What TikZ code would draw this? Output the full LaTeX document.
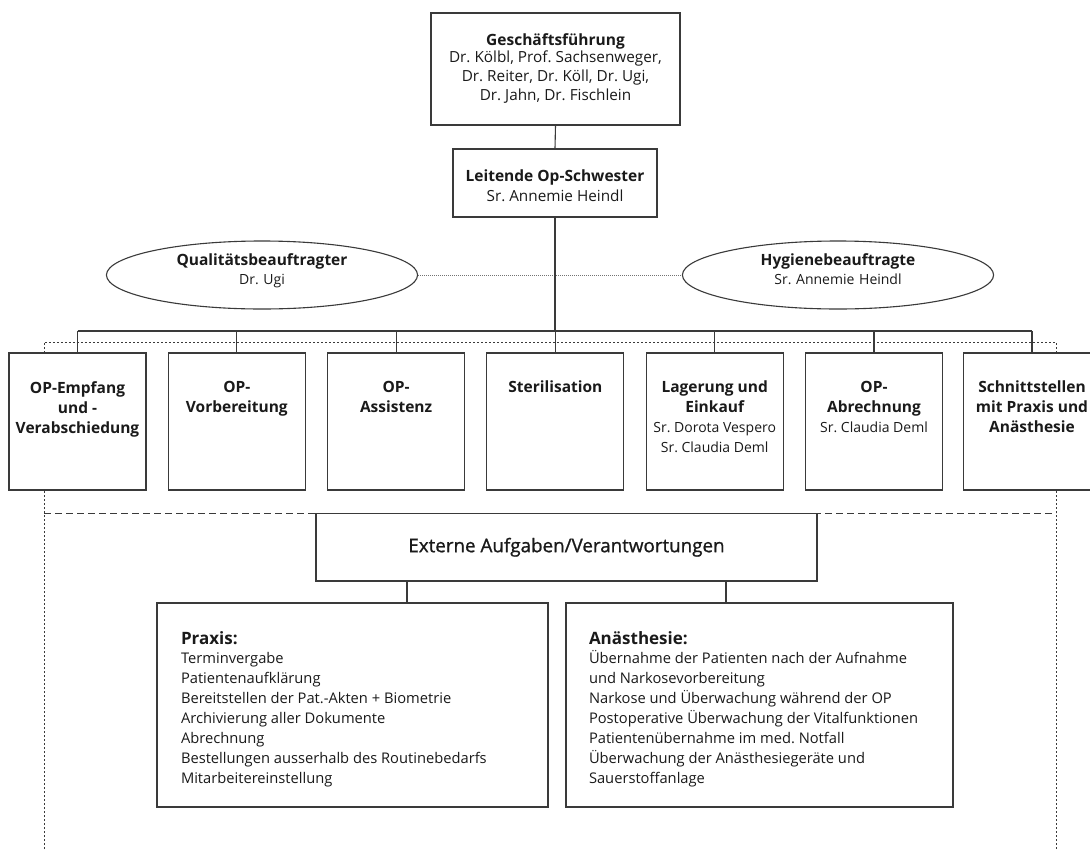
\documentclass[tikz,border=0pt]{standalone}
\usepackage{fontspec}
\setmainfont{Open Sans}
\newfontface\fmed{Open Sans}[FakeBold=1.0]
\frenchspacing
\usetikzlibrary{shapes.geometric}
\definecolor{lncol}{HTML}{3A3A3A}
\definecolor{txtcol}{HTML}{1A1A1A}
\newcommand\fT{\fontsize{15.5}{20.3}\selectfont\bfseries}
\newcommand\fN{\fontsize{14}{19}\selectfont\mdseries}
\newcommand\fG{\fontsize{15.3}{19}\selectfont\mdseries}
\newcommand\fE{\fmed\fontsize{18.8}{20}\selectfont}
\newcommand\fP{\fontsize{17}{20}\selectfont\bfseries}
\newcommand\fB{\fontsize{14.7}{20}\selectfont}
\tikzset{
  ln/.style={draw=lncol, line width=1.1pt},
  box/.style={ln, fill=white, rectangle, inner sep=0pt, text=txtcol},
  ell/.style={ln, fill=white, ellipse, inner sep=0pt, text width=220pt, align=center, minimum height=68pt, text=txtcol, font=\fontsize{14}{19}\selectfont},
  framedot/.style={draw=lncol, line width=1pt, dash pattern=on 2pt off 2pt},
  framedash/.style={draw=lncol, line width=1pt, dash pattern=on 7pt off 4pt},
  linkdot/.style={draw=black!55, line width=1pt, dash pattern=on 1pt off 1pt}
}
\begin{document}
\begin{tikzpicture}[x=1pt,y=-1pt]
\useasboundingbox (0,0) rectangle (1090,849);
\fill[white] (0,0) rectangle (1090,849);
% frame
\coordinate (fTL) at (44,342);
\coordinate (fTR) at (1056,342);
\coordinate (fBL) at (44,849);
\coordinate (fBR) at (1056,849);
\coordinate (dL) at (44,513.5);
\coordinate (dR) at (1056,513.5);
\draw[framedot] (fBL) -- (fTL) -- (fTR) -- (fBR);
\draw[framedash] (dL) -- (dR);
% top
\node[box] (gf) at (555.5,69) {\parbox[c][112pt][t]{249pt}{\centering\fG\rule{0pt}{32.5pt}{\fT Geschäftsführung}\\[-2.5pt]Dr. Kölbl, Prof. Sachsenweger,\\Dr. Reiter, Dr. Köll, Dr. Ugi,\\Dr. Jahn, Dr. Fischlein\par}};
\node[box] (lo) at (555,183) {\parbox[c][68pt][t]{204pt}{\centering\fontsize{15.3}{20}\selectfont\rule{0pt}{32.7pt}{\fT Leitende Op-Schwester}\\Sr. Annemie Heindl\par}};
\draw[ln] (gf.south) -- (lo.north);
% ellipses
\node[ell, minimum width=306pt] (qb) at (262,275) {{\fT Qualitätsbeauftragter}\\Dr. Ugi\rule[-12pt]{0pt}{1pt}};
\node[ell, minimum width=300pt] (hb) at (838,275) {{\fT Hygienebeauftragte}\\Sr. Annemie Heindl\rule[-12pt]{0pt}{1pt}};
\draw[linkdot] (qb.east) -- (hb.west);
% row boxes
\node[box] (b1) at (77.5,421.5) {\parbox[c][137pt][t]{137pt}{\centering\fT\rule{0pt}{40pt}OP-Empfang\\und -\\Verabschiedung\par}};
\node[box] (b2) at (236.8,421.5) {\parbox[c][137pt][t]{137pt}{\centering\fT\rule{0pt}{39pt}OP-\\Vorbereitung\par}};
\node[box] (b3) at (396.1,421.5) {\parbox[c][137pt][t]{137pt}{\centering\fT\rule{0pt}{39pt}OP-\\Assistenz\par}};
\node[box] (b4) at (555.4,421.5) {\parbox[c][137pt][t]{137pt}{\centering\fT\rule{0pt}{39pt}Sterilisation\par}};
\node[box] (b5) at (714.7,421.5) {\parbox[c][137pt][t]{137pt}{\centering\fT\rule{0pt}{39pt}Lagerung und\\Einkauf\\{\fN Sr. Dorota Vespero}\\{\fN Sr. Claudia Deml}\par}};
\node[box] (b6) at (874,421.5) {\parbox[c][137pt][t]{137pt}{\centering\fT\rule{0pt}{39pt}OP-\\Abrechnung\\{\fN Sr. Claudia Deml}\par}};
\node[box] (b7) at (1032,421.5) {\parbox[c][137pt][t]{137pt}{\centering\fT\rule{0pt}{39pt}Schnittstellen\\mit Praxis und\\Anästhesie\par}};
\coordinate (bar) at (555,331);
\draw[ln] (lo.south) -- (lo.south |- bar);
\draw[ln] (b1.north |- bar) -- (b7.north |- bar);
\foreach \b in {b1,b2,b3,b4,b5,b6,b7} {\draw[ln] (\b.north |- bar) -- (\b.north);}
% external
\node[box, minimum width=501pt, minimum height=67.5pt, font=\fE] (ext) at (566.5,547.25) {Externe Aufgaben/Verantwortungen};
\node[box] (px) at (352.5,705) {\parbox[c][204pt][t]{391pt}{\raggedright\leftskip24pt\fB\rule{0pt}{41pt}{\fP Praxis:}\\[-1pt]Terminvergabe\\Patientenaufklärung\\Bereitstellen der Pat.-Akten + Biometrie\\Archivierung aller Dokumente\\Abrechnung\\Bestellungen ausserhalb des Routinebedarfs\\Mitarbeitereinstellung\par}};
\node[box] (an) at (759.5,705) {\parbox[c][204pt][t]{387pt}{\raggedright\leftskip23pt\fB\rule{0pt}{41pt}{\fP Anästhesie:}\\[-1pt]Übernahme der Patienten nach der Aufnahme\\und Narkosevorbereitung\\Narkose und Überwachung während der OP\\Postoperative Überwachung der Vitalfunktionen\\Patientenübernahme im med. Notfall\\Überwachung der Anästhesiegeräte und\\Sauerstoffanlage\par}};
\coordinate (cpx) at (407,0);
\coordinate (can) at (726,0);
\draw[ln] (ext.south -| cpx) -- (px.north -| cpx);
\draw[ln] (ext.south -| can) -- (an.north -| can);
\end{tikzpicture}
\end{document}
